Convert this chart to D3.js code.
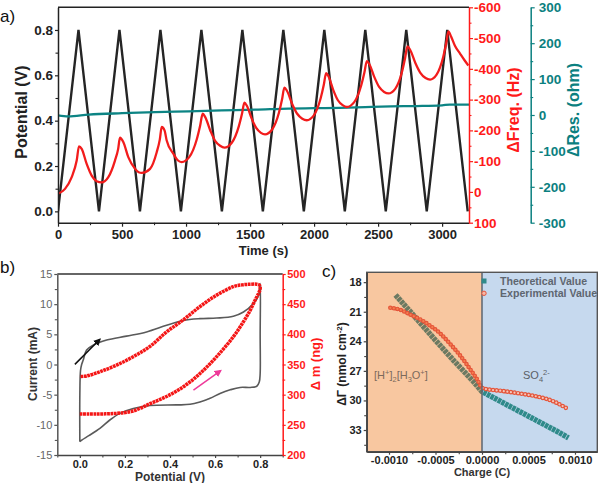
<!DOCTYPE html>
<html><head><meta charset="utf-8">
<script src="https://cdn.jsdelivr.net/npm/d3@7/dist/d3.min.js"></script>
<style>body{margin:0;background:#fff}svg{display:block}</style>
</head><body><svg id="c" width="600" height="483"></svg>
<script>
// ---------- DATA ----------
// Panel a: potential triangle wave
const potTime = [0,160,320,480,640,800,960,1120,1280,1440,1600,1760,1920,2080,2240,2400,2560,2720,2880,3040,3200];
const potVal  = [0,0.8,0,0.8,0,0.8,0,0.8,0,0.8,0,0.8,0,0.8,0,0.8,0,0.8,0,0.8,0];
// Panel a: frequency shift (Hz)
const freqTime = [0,55,107,146,164, 185,224,263,302,341, 393,445,470,484, 510,549,602,630,654, 719,771,795,810,
  832,849,901,935,966, 1025,1084,1110,1130, 1150,1190,1227,1266,1300, 1356,1412,1437,1456, 1475,1512,1548,1585,1617,
  1671,1726,1750,1768, 1789,1829,1868,1908,1943, 1997,2052,2076,2094, 2113,2150,2186,2223,2255, 2312,2368,2393,2412,
  2432,2471,2508,2547,2581, 2634,2688,2711,2729, 2750,2791,2830,2871,2906, 2957,3009,3032,3049, 3070,3100,3141,3175,3205];
const freqVal = [6,-10,-48,-102,-148, -140,-91,-53,-35,-31, -48,-102,-140,-176, -162,-113,-75,-64,-62, -75,-129,-170,-211,
  -200,-167,-124,-103,-97, -113,-171,-215,-254, -243,-199,-166,-150,-144, -159,-213,-254,-290, -280,-239,-208,-192,-187,
  -202,-258,-301,-339, -328,-286,-254,-238,-233, -248,-305,-348,-386, -375,-331,-298,-282,-276, -291,-346,-388,-425,
  -415,-373,-341,-325,-320, -335,-392,-435,-473, -462,-419,-387,-370,-365, -381,-439,-483,-522, -505,-475,-449,-428,-411];
// Panel a: resistance shift (ohm)
const resTime = [0,80,240,500,760,1020,1280,1540,1800,2000,2200,2400,2600,2800,3000,3060,3210];
const resVal  = [-1,-4,1,5,8,10,13,15,18,19,20,22,24,25,27,29,29];
// Panel a ticks
const aTimeTicks = [0,500,1000,1500,2000,2500,3000];
const aPotTicks = [0,0.2,0.4,0.6,0.8];
const aFreqTicks = [-600,-500,-400,-300,-200,-100,0,100];
const aResTicks = [-300,-200,-100,0,100,200,300];

// Panel b: CV loop (V, mA)
const cvV = [0,0,0.003,0.008,0.015,0.03,0.059,0.119,0.207,0.296,0.385,0.459,0.533,0.607,0.681,0.726,0.77,0.793,0.8,
  0.8,0.8,0.796,0.785,0.756,0.711,0.667,0.622,0.578,0.533,0.489,0.43,0.311,0.237,0.178,0.133,0.089,0.04,0.01,0];
const cvI = [-12.8,-5,-1,0,0.74,2.4,3.2,4.05,4.7,5.4,6.5,7.3,7.6,7.7,8.0,8.7,10.1,11.5,13.4,
  5,-1.5,-2.9,-3.6,-3.8,-3.8,-4.2,-4.8,-5.6,-6.2,-6.6,-6.7,-6.8,-7.3,-8.1,-9.2,-10.6,-11.8,-12.5,-12.8];
// Panel b: mass change (V, ng)
const massV = [0,0.08,0.163,0.237,0.311,0.385,0.459,0.533,0.607,0.681,0.726,0.756,0.778,0.793,0.8,0.798,0.785,0.756,0.72,0.681,0.607,0.533,0.459,0.385,0.311,0.237,0.163,0.089,0.03,0];
const massM = [268,268,269,273,285,297,313,335,363,396,421,440,457,468,475,481,483,483,482,479,465,446,424,404,380,363,349,338,331,330];
const bPotTicks = [0,0.2,0.4,0.6,0.8];
const bCurTicks = [-15,-10,-5,0,5,10,15];
const bMassTicks = [200,250,300,350,400,450,500];

// Panel c
const theoQ = [-0.00093,-0.0007,-0.0005,-0.0003,-0.0001,0,0.0002,0.0004,0.0006,0.0008,0.00093];
const theoG = [19.3,21.75,23.9,26.0,28.0,29.1,30.1,31.1,32.1,33.1,33.8];
const expQ = [-0.000986,-0.00088,-0.00077,-0.00066,-0.00056,-0.00045,-0.00034,-0.00023,-0.00013,-0.00005,0,0.00002,0.00023,0.00041,0.00059,0.00077,0.00091];
const expG = [20.6,20.8,21.3,21.8,22.4,23.2,24.3,25.5,26.8,27.9,28.7,28.8,29.05,29.3,29.6,30.1,30.8];
const cQTicks = [-0.001,-0.0005,0,0.0005,0.001];
const cGTicks = [18,21,24,27,30,33];
const cLegend = ["Theoretical Value","Experimental Value"];

// ---------- DRAW ----------
const FONT = '"Liberation Sans", Arial, Helvetica, sans-serif';
const svg = d3.select("#c").attr("font-family", FONT);
const defs = svg.append("defs");

function styleAxis(g, color, size, weight, labelColor) {
  g.selectAll("path.domain").attr("stroke", color).attr("stroke-width", 1.5);
  g.selectAll(".tick line").attr("stroke", color).attr("stroke-width", 1.2);
  g.selectAll(".tick text").attr("fill", labelColor || color).attr("font-size", size)
    .attr("font-weight", weight).attr("font-family", FONT);
}
function minorTicks(g, gen, vals, color) {
  gen.tickValues(vals).tickSize(2.5).tickFormat("").tickSizeOuter(0);
  g.call(gen);
  g.select("path.domain").remove();
  g.selectAll(".tick line").attr("stroke", color).attr("stroke-width", 1.1);
}
const fmtPlain = d => String(d);

// ===== Panel a =====
const xA = d3.scaleLinear([0,3210],[58,469]);
const yA = d3.scaleLinear([-0.05,0.9],[222.7,7.3]);
const yF = d3.scaleLinear([100,-600],[222.7,7.3]);
const yR = d3.scaleLinear([-300,300],[222.7,7.3]);

defs.append("clipPath").attr("id","clipA").append("rect")
  .attr("x",58).attr("y",7.3).attr("width",411).attr("height",215.4);

const gA = svg.append("g");
const plotA = gA.append("g").attr("clip-path","url(#clipA)");
plotA.append("path").datum(potTime.map((t,i)=>[t,potVal[i]]))
  .attr("fill","none").attr("stroke","#252525").attr("stroke-width",2.4).attr("stroke-linejoin","miter")
  .attr("d", d3.line().x(d=>xA(d[0])).y(d=>yA(d[1])));
plotA.append("path").datum(resTime.map((t,i)=>[t,resVal[i]]))
  .attr("fill","none").attr("stroke","#0c8484").attr("stroke-width",2.3)
  .attr("d", d3.line().curve(d3.curveMonotoneX).x(d=>xA(d[0])).y(d=>yR(d[1])));
plotA.append("path").datum(freqTime.map((t,i)=>[t,freqVal[i]]))
  .attr("fill","none").attr("stroke","#f21c1c").attr("stroke-width",2.3)
  .attr("d", d3.line().curve(d3.curveMonotoneX).x(d=>xA(d[0])).y(d=>yF(d[1])));

// top border
gA.append("line").attr("x1",58).attr("x2",469).attr("y1",7.3).attr("y2",7.3).attr("stroke","#222").attr("stroke-width",1.5);

let g;
g = gA.append("g").attr("transform","translate(0,222.7)");
minorTicks(g, d3.axisBottom(xA), [250,750,1250,1750,2250,2750], "#222");
g = gA.append("g").attr("transform","translate(0,222.7)")
  .call(d3.axisBottom(xA).tickValues(aTimeTicks).tickFormat(fmtPlain).tickSize(4).tickPadding(3).tickSizeOuter(0));
styleAxis(g,"#222","13px","bold");

g = gA.append("g").attr("transform","translate(58,0)");
minorTicks(g, d3.axisLeft(yA), [0.1,0.3,0.5,0.7], "#222");
g = gA.append("g").attr("transform","translate(58,0)")
  .call(d3.axisLeft(yA).tickValues(aPotTicks).tickFormat(d3.format(".1f")).tickSize(3).tickPadding(2).tickSizeOuter(0));
styleAxis(g,"#222","13.5px","bold");

const RED = "#ff1a1a";
g = gA.append("g").attr("transform","translate(469,0)");
minorTicks(g, d3.axisRight(yF), [-550,-450,-350,-250,-150,-50,50], RED);
g = gA.append("g").attr("transform","translate(469,0)")
  .call(d3.axisRight(yF).tickValues(aFreqTicks).tickFormat(fmtPlain).tickSize(4).tickPadding(1).tickSizeOuter(0));
styleAxis(g,RED,"13.5px","bold");

const TEAL = "#0b8080";
g = gA.append("g").attr("transform","translate(530.7,0)");
minorTicks(g, d3.axisRight(yR), [-250,-150,-50,50,150,250], TEAL);
g = gA.append("g").attr("transform","translate(530.7,0)")
  .call(d3.axisRight(yR).tickValues(aResTicks).tickFormat(fmtPlain).tickSize(4).tickPadding(4).tickSizeOuter(0));
styleAxis(g,TEAL,"13.5px","bold");

// titles
gA.append("text").attr("x",263.5).attr("y",254.5).attr("text-anchor","middle")
  .attr("font-size","13px").attr("font-weight","bold").attr("fill","#222").text("Time (s)");
gA.append("text").attr("transform","translate(26.5,112) rotate(-90)").attr("text-anchor","middle")
  .attr("font-size","16px").attr("font-weight","bold").attr("fill","#222").text("Potential (V)");
gA.append("text").attr("transform","translate(518.5,110) rotate(-90)").attr("text-anchor","middle")
  .attr("font-size","16px").attr("font-weight","bold").attr("fill",RED).text("ΔFreq. (Hz)");
gA.append("text").attr("transform","translate(578.5,110) rotate(-90)").attr("text-anchor","middle")
  .attr("font-size","16px").attr("font-weight","bold").attr("fill",TEAL).text("ΔRes. (ohm)");
gA.append("text").attr("x",0).attr("y",22).attr("font-size","17px").attr("fill","#111").text("a)");

// ===== Panel b =====
const xB = d3.scaleLinear([-0.1,0.9],[57.3,282.7]);
const yB = d3.scaleLinear([-15,15],[455,274]);
const yM = d3.scaleLinear([200,500],[455,274]);
const gB = svg.append("g");

gB.append("path").datum(cvV.map((v,i)=>[v,cvI[i]]))
  .attr("fill","none").attr("stroke","#5a5a5a").attr("stroke-width",1.6)
  .attr("d", d3.line().curve(d3.curveCatmullRom.alpha(0.5)).x(d=>xB(d[0])).y(d=>yB(d[1])));
gB.append("path").datum(massV.map((v,i)=>[v,massM[i]]))
  .attr("fill","none").attr("stroke","#f41616").attr("stroke-width",3.5).attr("stroke-dasharray","2.8,0.6")
  .attr("d", d3.line().curve(d3.curveCatmullRom.alpha(0.5)).x(d=>xB(d[0])).y(d=>yM(d[1])));

// arrows
const arrows = [
  {from:[-0.022,0.02], to:[0.089,4.17], color:"#111", id:"ahK"},
  {from:[0.504,-4.24], to:[0.625,-1.0], color:"#ee3a9a", id:"ahP"}
];
arrows.forEach(a=>{
  defs.append("marker").attr("id",a.id).attr("viewBox","0 0 10 10").attr("refX",8).attr("refY",5)
    .attr("markerWidth",5).attr("markerHeight",5).attr("orient","auto")
    .append("path").attr("d","M0,0L10,5L0,10z").attr("fill",a.color);
  gB.append("line").attr("x1",xB(a.from[0])).attr("y1",yB(a.from[1]))
    .attr("x2",xB(a.to[0])).attr("y2",yB(a.to[1])).attr("stroke",a.color).attr("stroke-width",1.5)
    .attr("marker-end",`url(#${a.id})`);
});

gB.append("line").attr("x1",57.3).attr("x2",282.7).attr("y1",274).attr("y2",274).attr("stroke","#333").attr("stroke-width",1.5);
g = gB.append("g").attr("transform","translate(0,455)");
minorTicks(g, d3.axisBottom(xB), [-0.1,0.1,0.3,0.5,0.7,0.9], "#444");
g = gB.append("g").attr("transform","translate(0,455)")
  .call(d3.axisBottom(xB).tickValues(bPotTicks).tickFormat(d3.format(".1f")).tickSize(3).tickPadding(2).tickSizeOuter(0));
styleAxis(g,"#444","11px","bold","#222");
g = gB.append("g").attr("transform","translate(57.3,0)");
minorTicks(g, d3.axisLeft(yB), [-12.5,-7.5,-2.5,2.5,7.5,12.5], "#555");
g = gB.append("g").attr("transform","translate(57.3,0)")
  .call(d3.axisLeft(yB).tickValues(bCurTicks).tickFormat(fmtPlain).tickSize(3).tickPadding(2).tickSizeOuter(0));
styleAxis(g,"#555","11px","normal","#666");
g = gB.append("g").attr("transform","translate(282.7,0)");
minorTicks(g, d3.axisRight(yM), [225,275,325,375,425,475], RED);
g = gB.append("g").attr("transform","translate(282.7,0)")
  .call(d3.axisRight(yM).tickValues(bMassTicks).tickFormat(fmtPlain).tickSize(3).tickPadding(1.5).tickSizeOuter(0));
styleAxis(g,RED,"11px","bold");

gB.append("text").attr("x",170).attr("y",480.5).attr("text-anchor","middle")
  .attr("font-size","12px").attr("font-weight","bold").attr("fill","#333").text("Potential (V)");
gB.append("text").attr("transform","translate(37,364) rotate(-90)").attr("text-anchor","middle")
  .attr("font-size","12px").attr("font-weight","bold").attr("fill","#333").text("Current (mA)");
gB.append("text").attr("transform","translate(320,364) rotate(-90)").attr("text-anchor","middle")
  .attr("font-size","13px").attr("font-weight","bold").attr("fill",RED).text("Δ m (ng)");
gB.append("text").attr("x",0).attr("y",273).attr("font-size","17px").attr("fill","#111").text("b)");

// ===== Panel c =====
const xC = d3.scaleLinear([-0.00124,0.00124],[366.7,597.3]);
const yC = d3.scaleLinear([17,35.2],[272.3,451.7]);
const gC = svg.append("g");
const x0 = xC(0);
gC.append("rect").attr("x",366.7).attr("y",272.3).attr("width",x0-366.7).attr("height",179.4).attr("fill","#f8c7a0");
gC.append("rect").attr("x",x0).attr("y",272.3).attr("width",597.3-x0).attr("height",179.4).attr("fill","#c6d9ee");

defs.append("clipPath").attr("id","clipL").append("rect").attr("x",360).attr("y",265).attr("width",x0-360).attr("height",200);
defs.append("clipPath").attr("id","clipR").append("rect").attr("x",x0).attr("y",265).attr("width",600-x0).attr("height",200);

const lineC = d3.line().x(d=>xC(d[0])).y(d=>yC(d[1]));
const theo = theoQ.map((q,i)=>[q,theoG[i]]);
const expd = expQ.map((q,i)=>[q,expG[i]]);
gC.append("path").datum(theo).attr("clip-path","url(#clipL)").attr("fill","none")
  .attr("stroke","#6c7a62").attr("stroke-width",5.5).attr("stroke-dasharray","3.5,0.6").attr("d",lineC);
gC.append("path").datum(theo).attr("clip-path","url(#clipR)").attr("fill","none")
  .attr("stroke","#2f8a8a").attr("stroke-width",5.5).attr("stroke-dasharray","3.5,0.6").attr("d",lineC);
const lineE = d3.line().curve(d3.curveMonotoneX).x(d=>xC(d[0])).y(d=>yC(d[1]));
gC.append("path").datum(expd).attr("fill","none").attr("stroke","#e5553a").attr("stroke-width",4.6)
  .attr("stroke-linecap","round").attr("stroke-dasharray","0,3.6").attr("d",lineE);
gC.append("path").datum(expd).attr("clip-path","url(#clipL)").attr("fill","none").attr("stroke","#f58050").attr("stroke-width",2.2)
  .attr("stroke-linecap","round").attr("stroke-dasharray","0,3.6").attr("d",lineE);
gC.append("path").datum(expd).attr("clip-path","url(#clipR)").attr("fill","none").attr("stroke","#f3c6bc").attr("stroke-width",2.2)
  .attr("stroke-linecap","round").attr("stroke-dasharray","0,3.6").attr("d",lineE);

gC.append("line").attr("x1",x0).attr("x2",x0).attr("y1",272.3).attr("y2",451.7).attr("stroke","#5b6470").attr("stroke-width",1.5);
gC.append("rect").attr("x",366.7).attr("y",272.3).attr("width",230.6).attr("height",179.4)
  .attr("fill","none").attr("stroke","#555").attr("stroke-width",1.4);

g = gC.append("g").attr("transform","translate(0,451.7)");
minorTicks(g, d3.axisBottom(xC), [-0.00075,-0.00025,0.00025,0.00075], "#444");
g = gC.append("g").attr("transform","translate(0,451.7)")
  .call(d3.axisBottom(xC).tickValues(cQTicks).tickFormat(d=>d.toFixed(4)).tickSize(3).tickPadding(2).tickSizeOuter(0));
styleAxis(g,"#444","11px","bold","#222");
g = gC.append("g").attr("transform","translate(366.7,0)");
minorTicks(g, d3.axisLeft(yC), [19.5,22.5,25.5,28.5,31.5,34.5], "#444");
g = gC.append("g").attr("transform","translate(366.7,0)")
  .call(d3.axisLeft(yC).tickValues(cGTicks).tickFormat(fmtPlain).tickSize(3).tickPadding(2).tickSizeOuter(0));
styleAxis(g,"#444","11px","bold","#222");

// legend
gC.append("rect").attr("x",481.5).attr("y",278.5).attr("width",5).attr("height",5).attr("fill","#2f8a8a");
gC.append("circle").attr("cx",484).attr("cy",293.3).attr("r",2.2).attr("fill","#f3b8a8").attr("stroke","#e5553a").attr("stroke-width",1);
gC.selectAll("text.leg").data(cLegend).join("text").attr("class","leg")
  .attr("x",500).attr("y",(d,i)=>285+i*12.3).attr("font-size","10.6px").attr("font-weight","bold")
  .attr("fill","#5e6670").text(d=>d);

// region labels
const t1 = gC.append("text").attr("x",374).attr("y",379).attr("font-size","11px").attr("fill","#7c6a5c");
t1.append("tspan").text("[H");
t1.append("tspan").attr("dy",-4).attr("font-size","7.5px").text("+");
t1.append("tspan").attr("dy",4).text("]");
t1.append("tspan").attr("dy",3).attr("font-size","7.5px").text("2");
t1.append("tspan").attr("dy",-3).text("[H");
t1.append("tspan").attr("dy",3).attr("font-size","7.5px").text("3");
t1.append("tspan").attr("dy",-3).text("O");
t1.append("tspan").attr("dy",-4).attr("font-size","7.5px").text("+");
t1.append("tspan").attr("dy",4).text("]");
const t2 = gC.append("text").attr("x",523).attr("y",379).attr("font-size","11px").attr("fill","#5a5f66");
t2.append("tspan").text("SO");
t2.append("tspan").attr("dy",3).attr("font-size","7.5px").text("4");
t2.append("tspan").attr("dy",-7).attr("font-size","7.5px").text("2-");

gC.append("text").attr("x",482).attr("y",476).attr("text-anchor","middle")
  .attr("font-size","11px").attr("font-weight","bold").attr("fill","#333").text("Charge (C)");
const t3 = gC.append("text").attr("transform","translate(346,364) rotate(-90)").attr("text-anchor","middle")
  .attr("font-size","12px").attr("font-weight","bold").attr("fill","#222");
t3.append("tspan").text("ΔΓ (nmol cm");
t3.append("tspan").attr("dy",-4).attr("font-size","8px").text("-2");
t3.append("tspan").attr("dy",4).text(")");
gC.append("text").attr("x",322).attr("y",277).attr("font-size","17px").attr("fill","#111").text("c)");
</script></body></html>
